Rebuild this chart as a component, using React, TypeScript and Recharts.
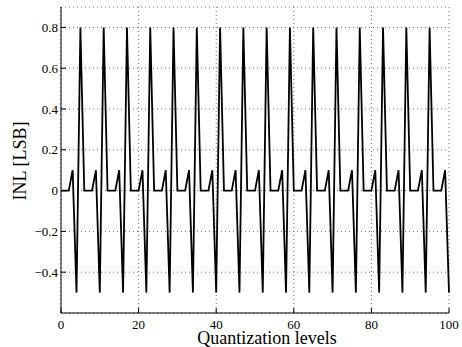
import { CartesianGrid, Line, LineChart, XAxis, YAxis } from "recharts"

// quantization level index (x axis)
const levels = [
  0, 1, 2, 3, 4, 5, 6, 7, 8, 9, 10, 11, 12, 13, 14, 15, 16, 17, 18, 19,
  20, 21, 22, 23, 24, 25, 26, 27, 28, 29, 30, 31, 32, 33, 34, 35, 36, 37, 38, 39,
  40, 41, 42, 43, 44, 45, 46, 47, 48, 49, 50, 51, 52, 53, 54, 55, 56, 57, 58, 59,
  60, 61, 62, 63, 64, 65, 66, 67, 68, 69, 70, 71, 72, 73, 74, 75, 76, 77, 78, 79,
  80, 81, 82, 83, 84, 85, 86, 87, 88, 89, 90, 91, 92, 93, 94, 95, 96, 97, 98, 99,
  100,
]

// INL in LSB
const inl = [
  0, 0, 0, 0.1, -0.5, 0.8,
  0, 0, 0, 0.1, -0.5, 0.8,
  0, 0, 0, 0.1, -0.5, 0.8,
  0, 0, 0, 0.1, -0.5, 0.8,
  0, 0, 0, 0.1, -0.5, 0.8,
  0, 0, 0, 0.1, -0.5, 0.8,
  0, 0, 0, 0.1, -0.5, 0.8,
  0, 0, 0, 0.1, -0.5, 0.8,
  0, 0, 0, 0.1, -0.5, 0.8,
  0, 0, 0, 0.1, -0.5, 0.8,
  0, 0, 0, 0.1, -0.5, 0.8,
  0, 0, 0, 0.1, -0.5, 0.8,
  0, 0, 0, 0.1, -0.5, 0.8,
  0, 0, 0, 0.1, -0.5, 0.8,
  0, 0, 0, 0.1, -0.5, 0.8,
  0, 0, 0, 0.1, -0.5, 0.8,
  0, 0, 0, 0.1, -0.5,
]

const xTicks = [0, 20, 40, 60, 80, 100]
const yTicks = [-0.4, -0.2, 0, 0.2, 0.4, 0.6, 0.8]

const data = levels.map((level, i) => ({ level, inl: inl[i] }))

const FONT = "'Liberation Serif', 'Times New Roman', serif"
const TICK_LEN = 5
const MARGIN_X = 7
const MARGIN_Y = 3

const fmt = (v: number) => (v < 0 ? "\u2212" + Math.abs(v) : String(v))

const BottomTick = ({ x, y, payload }: any) => (
  <g>
    <line x1={x} x2={x} y1={y - MARGIN_X} y2={y - MARGIN_X - TICK_LEN} stroke="#000" />
    <text x={x} y={y} dy="0.71em" textAnchor="middle" fontSize={13} fontFamily={FONT} fill="#000">
      {fmt(payload.value)}
    </text>
  </g>
)

const LeftTick = ({ x, y, payload }: any) => (
  <g>
    <line x1={x + MARGIN_Y} x2={x + MARGIN_Y + TICK_LEN} y1={y} y2={y} stroke="#000" />
    <text x={x} y={y} dy="0.35em" textAnchor="end" fontSize={13} fontFamily={FONT} fill="#000">
      {fmt(payload.value)}
    </text>
  </g>
)

const TopTick = ({ x, y }: any) => <line x1={x} x2={x} y1={y} y2={y + TICK_LEN} stroke="#000" />

const RightTick = ({ x, y }: any) => <line x1={x} x2={x - TICK_LEN} y1={y} y2={y} stroke="#000" />

export default function App() {
  return (
    <div style={{ position: "absolute", left: 0, top: 0, width: 462, height: 347, background: "#fff" }}>
      <LineChart width={462} height={347} data={data} margin={{ top: 7, right: 13, left: 0, bottom: 0 }}>
        <CartesianGrid stroke="#777" strokeDasharray="1 3" />
        <XAxis
          dataKey="level"
          type="number"
          domain={[0, 100]}
          ticks={xTicks}
          height={34}
          tickSize={0}
          tickMargin={MARGIN_X}
          tick={<BottomTick />}
          axisLine={{ stroke: "#000" }}
          label={{
            content: () => (
              <text x={267} y={344} textAnchor="middle" fontSize={18} fontFamily={FONT} fill="#000">
                Quantization levels
              </text>
            ),
          }}
        />
        <XAxis
          xAxisId="top"
          orientation="top"
          dataKey="level"
          type="number"
          domain={[0, 100]}
          ticks={xTicks}
          height={0}
          tickSize={0}
          tickMargin={0}
          tick={<TopTick />}
          axisLine={{ stroke: "#000" }}
        />
        <YAxis
          type="number"
          domain={[-0.6, 0.9]}
          ticks={yTicks}
          width={61}
          tickSize={0}
          tickMargin={MARGIN_Y}
          tick={<LeftTick />}
          axisLine={{ stroke: "#000" }}
          label={{
            content: () => (
              <text
                x={26}
                y={161}
                transform="rotate(-90, 26, 161)"
                textAnchor="middle"
                fontSize={18}
                fontFamily={FONT}
                fill="#000"
              >
                INL [LSB]
              </text>
            ),
          }}
        />
        <YAxis
          yAxisId="right"
          orientation="right"
          type="number"
          domain={[-0.6, 0.9]}
          ticks={yTicks}
          width={0}
          tickSize={0}
          tickMargin={0}
          tick={<RightTick />}
          axisLine={{ stroke: "#000" }}
        />
        <Line
          dataKey="inl"
          stroke="#000"
          strokeWidth={1.8}
          dot={false}
          type="linear"
          isAnimationActive={false}
        />
      </LineChart>
    </div>
  )
}
